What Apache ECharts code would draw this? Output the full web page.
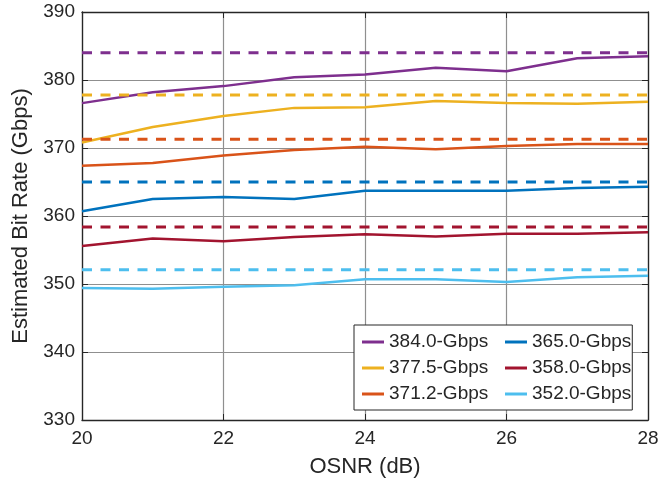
<!DOCTYPE html>
<html>
<head>
<meta charset="utf-8">
<script src="https://cdn.jsdelivr.net/npm/echarts@6/dist/echarts.min.js"></script>
<style>
html, body { margin: 0; padding: 0; background: #fff; }
#chart { width: 661px; height: 479px; }
</style>
</head>
<body>
<div id="chart"></div>
<script>
// OSNR sample points (dB)
var osnr = [20, 21, 22, 23, 24, 25, 26, 27, 28];

// estimated bit rate per nominal rate (Gbps)
var est384 = [376.6, 378.2, 379.1, 380.4, 380.8, 381.8, 381.3, 383.2, 383.5];
var est377 = [370.8, 373.1, 374.7, 375.9, 376.0, 376.9, 376.6, 376.5, 376.8];
var est371 = [367.4, 367.8, 368.9, 369.7, 370.2, 369.8, 370.3, 370.6, 370.6];
var est365 = [360.7, 362.5, 362.8, 362.5, 363.7, 363.7, 363.7, 364.1, 364.3];
var est358 = [355.6, 356.7, 356.3, 356.9, 357.3, 357.0, 357.4, 357.4, 357.6];
var est352 = [349.4, 349.3, 349.6, 349.8, 350.7, 350.7, 350.3, 351.0, 351.2];

// reference (dashed) levels
var refLevels = [384.0, 377.8, 371.3, 365.0, 358.4, 352.1];

var names = ['384.0-Gbps', '377.5-Gbps', '371.2-Gbps', '365.0-Gbps', '358.0-Gbps', '352.0-Gbps'];
var colors = ['#7E2F8E', '#EDB120', '#D95319', '#0072BD', '#A2142F', '#4DBEEE'];
var estimates = [est384, est377, est371, est365, est358, est352];

var font = "'Liberation Sans', Arial, sans-serif";
var dark = '#262626';
var gridGray = '#8f8f8f';

var chart = echarts.init(document.getElementById('chart'));

var series = [];
// dashed reference lines
for (var i = 0; i < refLevels.length; i++) {
    series.push({
        name: 'ref' + i,
        type: 'line',
        data: [[osnr[0], refLevels[i]], [osnr[osnr.length - 1], refLevels[i]]],
        showSymbol: false,
        lineStyle: { color: colors[i], width: 3, type: [10, 8.5] },
        itemStyle: { color: colors[i] },
        silent: true,
        z: 3
    });
}
// measured curves
for (var j = 0; j < estimates.length; j++) {
    series.push({
        name: names[j],
        type: 'line',
        data: osnr.map(function (x, k) { return [x, estimates[j][k]]; }),
        showSymbol: false,
        lineStyle: { color: colors[j], width: 2.5 },
        itemStyle: { color: colors[j] },
        z: 2
    });
}

// legend: two columns, first column gets a fixed text width so the second lines up
var leftCol = { width: 112 };
var option = {
    animation: false,
    backgroundColor: '#fff',
    grid: { left: 82, right: 13, top: 12, bottom: 59, containLabel: false, outerBoundsMode: 'none' },
    legend: {
        data: [
            { name: names[0], textStyle: leftCol }, names[3],
            { name: names[1], textStyle: leftCol }, names[4],
            { name: names[2], textStyle: leftCol }, names[5]
        ],
        orient: 'horizontal',
        left: 354,
        top: 325,
        width: 290,
        itemWidth: 22,
        itemHeight: 3,
        itemGap: 4,
        icon: 'rect',
        padding: [6, 1, 5, 8],
        backgroundColor: '#fff',
        borderColor: dark,
        borderWidth: 1,
        textStyle: { fontFamily: font, fontSize: 19, color: dark, lineHeight: 22 }
    },
    xAxis: [{
        type: 'value',
        min: 20,
        max: 28,
        interval: 2,
        name: 'OSNR (dB)',
        nameLocation: 'middle',
        nameGap: 36,
        nameTextStyle: { fontFamily: font, fontSize: 22, color: dark },
        axisLine: { show: true, lineStyle: { color: dark, width: 1.3 } },
        axisTick: { show: true, inside: true, length: 6, lineStyle: { color: dark } },
        axisLabel: { fontFamily: font, fontSize: 19, color: dark, margin: 9 },
        splitLine: { show: true, lineStyle: { color: gridGray, width: 1.2 } }
    }, {
        type: 'value',
        min: 20,
        max: 28,
        interval: 2,
        position: 'top',
        axisLine: { show: true, lineStyle: { color: dark, width: 1.3 } },
        axisTick: { show: true, inside: true, length: 6, lineStyle: { color: dark } },
        axisLabel: { show: false },
        splitLine: { show: false }
    }],
    yAxis: [{
        type: 'value',
        min: 330,
        max: 390,
        interval: 10,
        name: 'Estimated Bit Rate (Gbps)',
        nameLocation: 'middle',
        nameGap: 50,
        nameTextStyle: { fontFamily: font, fontSize: 22, color: dark },
        axisLine: { show: true, lineStyle: { color: dark, width: 1.3 } },
        axisTick: { show: true, inside: true, length: 6, lineStyle: { color: dark } },
        axisLabel: { fontFamily: font, fontSize: 19, color: dark, margin: 7 },
        splitLine: { show: true, lineStyle: { color: gridGray, width: 1.2 } }
    }, {
        type: 'value',
        min: 330,
        max: 390,
        interval: 10,
        position: 'right',
        axisLine: { show: true, lineStyle: { color: dark, width: 1.3 } },
        axisTick: { show: true, inside: true, length: 6, lineStyle: { color: dark } },
        axisLabel: { show: false },
        splitLine: { show: false }
    }],
    series: series
};

chart.setOption(option);
</script>
</body>
</html>
